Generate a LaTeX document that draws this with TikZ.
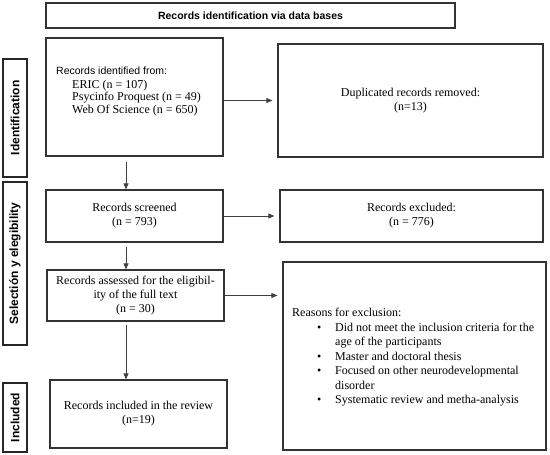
\documentclass[tikz,border=0pt]{standalone}
\usepackage{fontspec}
\setmainfont{Liberation Serif}
\setsansfont{Liberation Sans}
\usetikzlibrary{arrows.meta,calc}
\begin{document}
\begin{tikzpicture}[x=1pt,y=-1pt,
  box/.style={draw=black!80, line width=1.2pt, inner sep=0pt, align=center,
    font=\fontsize{12}{13.8}\selectfont},
  lab/.style={draw=black!85, line width=1.6pt, inner sep=0pt, rotate=90,
    font=\sffamily\bfseries\fontsize{12}{14}\selectfont},
  txt/.style={inner sep=0pt, align=left, font=\fontsize{12}{13.8}\selectfont},
  arr/.style={draw=black!75, line width=0.7pt, -{Triangle[length=6pt,width=5pt]}}]
\useasboundingbox (0,0) rectangle (550,455);
% title
\node[box, minimum width=409pt, minimum height=25pt,
  font=\sffamily\bfseries\fontsize{10.5}{12}\selectfont] (title) at (250.5,15.5)
  {Records identification via data bases};
% phase labels
\node[lab, minimum width=118pt, minimum height=24pt] (labid) at (15,118) {Identification};
\node[lab, minimum width=163pt, minimum height=24pt] (labsel) at (15,263.5) {Selectión y elegibility};
\node[lab, minimum width=69pt, minimum height=24pt] (labinc) at (15,417.5) {Included};
% boxes
\node[box, minimum width=177pt, minimum height=118pt] (ident) at (134.5,97) {};
\node[txt, anchor=north west] (identtxt) at (56,67)
  {{\sffamily\fontsize{10.5}{12}\selectfont Records identified from:}\\[-0.6pt]
   \hspace*{16pt}ERIC (n = 107)\\[-1.3pt]
   \hspace*{16pt}Psycinfo Proquest (n = 49)\\[-1.3pt]
   \hspace*{16pt}Web Of Science (n = 650)};
\node[box, minimum width=265pt, minimum height=113pt] (dup) at (410.5,100.5)
  {Duplicated records removed:\\(n=13)};
\node[box, minimum width=177pt, minimum height=52pt] (screen) at (134.5,216)
  {Records screened\\(n = 793)};
\node[box, minimum width=263pt, minimum height=52pt] (excl) at (411.5,216)
  {Records excluded:\\(n = 776)};
\node[box, minimum width=177pt, minimum height=51pt] (assess) at (135.5,295.5)
  {Records assessed for the eligibil-\\ity of the full text\\(n = 30)};
\node[box, minimum width=263pt, minimum height=188pt] (reasons) at (414.5,356) {};
\node[txt, anchor=north west, font=\fontsize{12}{14.5}\selectfont] (reastxt) at (292,308)
  {Reasons for exclusion:\\
   \hspace*{25pt}\makebox[18pt][l]{\textbullet}Did not meet the inclusion criteria for the\\
   \hspace*{43pt}age of the participants\\
   \hspace*{25pt}\makebox[18pt][l]{\textbullet}Master and doctoral thesis\\
   \hspace*{25pt}\makebox[18pt][l]{\textbullet}Focused on other neurodevelopmental\\
   \hspace*{43pt}disorder\\
   \hspace*{25pt}\makebox[18pt][l]{\textbullet}Systematic review and metha-analysis};
\node[box, minimum width=177pt, minimum height=68pt] (incl) at (138.5,414)
  {Records included in the review\\(n=19)};
% connectors
\coordinate (vx) at (126,0);
\draw[arr] ($(ident.south -| vx)+(0,5)$) -- (screen.north -| vx);
\draw[arr] ($(screen.south -| vx)+(0,4)$) -- (assess.north -| vx);
\draw[arr] ($(assess.south -| vx)+(0,3)$) -- (incl.north -| vx);
\draw[arr] (ident.east |- dup.west) -- ([xshift=-5pt]dup.west);
\draw[arr] (screen.east) -- ([xshift=-5pt]excl.west);
\draw[arr] (assess.east) -- ($(assess.east -| reasons.west)+(-5,0)$);
\end{tikzpicture}
\end{document}
